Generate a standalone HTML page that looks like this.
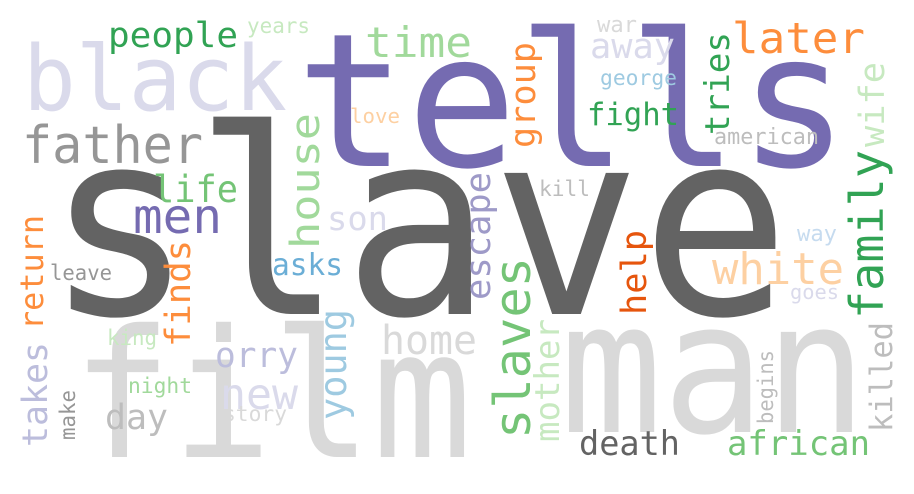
<!DOCTYPE html>
<html><head><meta charset="utf-8"><style>
html,body{margin:0;padding:0;background:#fff;}
svg{display:block;}
text{font-family:"DejaVu Sans Mono","Liberation Mono",monospace;}
</style></head><body>
<svg width="914" height="494" viewBox="0 0 914 494">
<rect width="914" height="494" fill="#fff"/>
<g>
<text x="560" y="432" font-size="183" fill="#d9d9d9" textLength="307" lengthAdjust="spacingAndGlyphs">man</text>
<text x="72" y="457" font-size="178" fill="#d9d9d9" textLength="400" lengthAdjust="spacingAndGlyphs">film</text>
<text x="23" y="110" font-size="90" fill="#dadaeb" textLength="264" lengthAdjust="spacingAndGlyphs">black</text>
<text x="296" y="166" font-size="186" fill="#756bb1" textLength="553" lengthAdjust="spacingAndGlyphs">tells</text>
<text x="381" y="354" font-size="40" fill="#d9d9d9" textLength="96" lengthAdjust="spacingAndGlyphs">home</text>
<text x="45" y="314" font-size="258" fill="#636363" textLength="745" lengthAdjust="spacingAndGlyphs">slave</text>
<text x="22" y="163" font-size="52" fill="#969696" textLength="181" lengthAdjust="spacingAndGlyphs">father</text>
<text x="108" y="47" font-size="35" fill="#31a354" textLength="130" lengthAdjust="spacingAndGlyphs">people</text>
<text x="247" y="33" font-size="21" fill="#c7e9c0" textLength="63" lengthAdjust="spacingAndGlyphs">years</text>
<text x="365" y="57" font-size="42" fill="#a1d99b" textLength="107" lengthAdjust="spacingAndGlyphs">time</text>
<text x="350" y="123" font-size="20" fill="#fdd0a2" textLength="50" lengthAdjust="spacingAndGlyphs">love</text>
<text x="153" y="202" font-size="37" fill="#74c476" textLength="85" lengthAdjust="spacingAndGlyphs">life</text>
<text x="133" y="233" font-size="48" fill="#756bb1" textLength="89" lengthAdjust="spacingAndGlyphs">men</text>
<text x="327" y="230" font-size="33" fill="#dadaeb" textLength="61" lengthAdjust="spacingAndGlyphs">son</text>
<text x="590" y="58" font-size="35" fill="#dadaeb" textLength="85" lengthAdjust="spacingAndGlyphs">away</text>
<text x="597" y="32" font-size="22" fill="#d9d9d9" textLength="40" lengthAdjust="spacingAndGlyphs">war</text>
<text x="732" y="53" font-size="43" fill="#fd8d3c" textLength="133" lengthAdjust="spacingAndGlyphs">later</text>
<text x="600" y="85" font-size="21" fill="#9ecae1" textLength="77" lengthAdjust="spacingAndGlyphs">george</text>
<text x="587" y="125" font-size="31" fill="#31a354" textLength="92" lengthAdjust="spacingAndGlyphs">fight</text>
<text x="714" y="144" font-size="22" fill="#bdbdbd" textLength="105" lengthAdjust="spacingAndGlyphs">american</text>
<text x="539" y="196" font-size="21" fill="#bdbdbd" textLength="51" lengthAdjust="spacingAndGlyphs">kill</text>
<text x="797" y="241" font-size="22" fill="#c6dbef" textLength="40" lengthAdjust="spacingAndGlyphs">way</text>
<text x="272" y="275" font-size="30" fill="#6baed6" textLength="71" lengthAdjust="spacingAndGlyphs">asks</text>
<text x="50" y="280" font-size="21" fill="#969696" textLength="62" lengthAdjust="spacingAndGlyphs">leave</text>
<text x="107" y="345" font-size="21" fill="#c7e9c0" textLength="50" lengthAdjust="spacingAndGlyphs">king</text>
<text x="215" y="367" font-size="35" fill="#bcbddc" textLength="83" lengthAdjust="spacingAndGlyphs">orry</text>
<text x="220" y="409" font-size="43" fill="#dadaeb" textLength="78" lengthAdjust="spacingAndGlyphs">new</text>
<text x="128" y="393" font-size="21" fill="#a1d99b" textLength="64" lengthAdjust="spacingAndGlyphs">night</text>
<text x="105" y="429" font-size="35" fill="#bdbdbd" textLength="63" lengthAdjust="spacingAndGlyphs">day</text>
<text x="223" y="421" font-size="21" fill="#d9d9d9" textLength="64" lengthAdjust="spacingAndGlyphs">story</text>
<text x="712" y="284" font-size="44" fill="#fdd0a2" textLength="132" lengthAdjust="spacingAndGlyphs">white</text>
<text x="790" y="299" font-size="20" fill="#dadaeb" textLength="49" lengthAdjust="spacingAndGlyphs">goes</text>
<text x="579" y="455" font-size="34" fill="#636363" textLength="101" lengthAdjust="spacingAndGlyphs">death</text>
<text x="727" y="455" font-size="34" fill="#74c476" textLength="143" lengthAdjust="spacingAndGlyphs">african</text>
</g>
<g>
<text transform="translate(319,249) rotate(-90)" font-size="40" fill="#a1d99b" textLength="136" lengthAdjust="spacingAndGlyphs">house</text>
<text transform="translate(535,148) rotate(-90)" font-size="35" fill="#fd8d3c" textLength="106" lengthAdjust="spacingAndGlyphs">group</text>
<text transform="translate(729,135) rotate(-90)" font-size="34" fill="#31a354" textLength="103" lengthAdjust="spacingAndGlyphs">tries</text>
<text transform="translate(884,147) rotate(-90)" font-size="35" fill="#c7e9c0" textLength="85" lengthAdjust="spacingAndGlyphs">wife</text>
<text transform="translate(883,319) rotate(-90)" font-size="46" fill="#31a354" textLength="169" lengthAdjust="spacingAndGlyphs">family</text>
<text transform="translate(892,432) rotate(-90)" font-size="31" fill="#bdbdbd" textLength="110" lengthAdjust="spacingAndGlyphs">killed</text>
<text transform="translate(773,424) rotate(-90)" font-size="21" fill="#bdbdbd" textLength="74" lengthAdjust="spacingAndGlyphs">begins</text>
<text transform="translate(646,315) rotate(-90)" font-size="35" fill="#e6550d" textLength="85" lengthAdjust="spacingAndGlyphs">help</text>
<text transform="translate(530,439) rotate(-90)" font-size="50" fill="#74c476" textLength="182" lengthAdjust="spacingAndGlyphs">slaves</text>
<text transform="translate(559,442) rotate(-90)" font-size="34" fill="#c7e9c0" textLength="123" lengthAdjust="spacingAndGlyphs">mother</text>
<text transform="translate(490,300) rotate(-90)" font-size="35" fill="#9e9ac8" textLength="128" lengthAdjust="spacingAndGlyphs">escape</text>
<text transform="translate(43,330) rotate(-90)" font-size="32" fill="#fd8d3c" textLength="115" lengthAdjust="spacingAndGlyphs">return</text>
<text transform="translate(190,347) rotate(-90)" font-size="35" fill="#fd8d3c" textLength="107" lengthAdjust="spacingAndGlyphs">finds</text>
<text transform="translate(47,447) rotate(-90)" font-size="35" fill="#bcbddc" textLength="105" lengthAdjust="spacingAndGlyphs">takes</text>
<text transform="translate(75,440) rotate(-90)" font-size="21" fill="#969696" textLength="50" lengthAdjust="spacingAndGlyphs">make</text>
<text transform="translate(346,420) rotate(-90)" font-size="37" fill="#9ecae1" textLength="111" lengthAdjust="spacingAndGlyphs">young</text>
</g>
</svg>
</body></html>
